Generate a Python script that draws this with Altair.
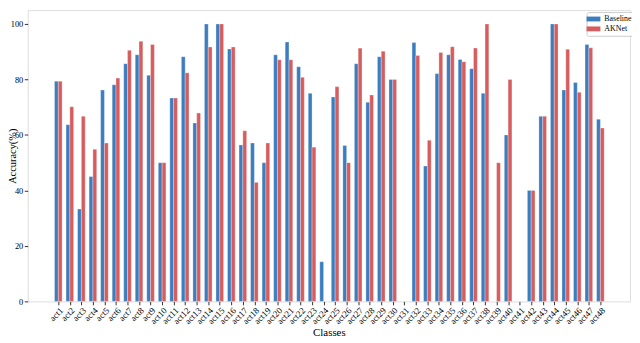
import altair as alt
import pandas as pd

classes = [f"act{i}" for i in range(1, 49)]
baseline = [79.4, 63.7, 33.3, 45.0, 76.2, 78.1, 85.7, 88.9, 81.5, 50.0,
            73.3, 88.2, 64.3, 100.0, 100.0, 91.0, 56.4, 57.1, 50.0, 88.9,
            93.5, 84.6, 75.0, 14.3, 73.7, 56.2, 85.7, 71.8, 88.2, 80.0,
            0.0, 93.3, 48.8, 82.1, 88.9, 87.2, 83.9, 75.0, 0.0, 60.0,
            0.0, 40.0, 66.7, 100.0, 76.2, 78.9, 92.6, 65.7]
aknet = [79.4, 70.2, 66.7, 54.8, 57.1, 80.5, 90.5, 93.8, 92.6, 50.0,
         73.3, 82.4, 67.9, 91.7, 100.0, 91.7, 61.5, 42.9, 57.1, 87.1,
         87.1, 80.8, 55.6, 0.0, 77.4, 50.0, 91.3, 74.4, 90.2, 80.0,
         0.0, 88.6, 58.1, 89.7, 91.8, 86.4, 91.3, 100.0, 50.0, 80.0,
         0.0, 40.0, 66.7, 100.0, 90.9, 75.4, 91.4, 62.5]
series = ["Baseline", "AKNet"]
colors = ["#3c7dbf", "#d65c5e"]
y_ticks = [0, 20, 40, 60, 80, 100]
bar_w = 0.33

rows = []
for i, (c, b, a) in enumerate(zip(classes, baseline, aknet), start=1):
    rows.append({"Class": c, "Idx": i, "Series": "Baseline", "Accuracy": b,
                 "x0": i - bar_w, "x1": i})
    rows.append({"Class": c, "Idx": i, "Series": "AKNet", "Accuracy": a,
                 "x0": i, "x1": i + bar_w})
df = pd.DataFrame(rows)

font = "Liberation Serif"
W, H = 610, 295

chart = alt.Chart(df).transform_filter(
    alt.datum.Accuracy > 0
).mark_bar(stroke="#ffffff", strokeOpacity=0.5, strokeWidth=0.6).encode(
    x=alt.X("x0:Q",
            scale=alt.Scale(domain=[-1.65, 50.57], nice=False, zero=False),
            axis=alt.Axis(title="Classes", values=list(range(1, 49)),
                          labelExpr="'act' + datum.value",
                          labelAngle=-45, labelAlign="right",
                          labelBaseline="top", labelFontSize=9, titleFontSize=11,
                          labelPadding=1, titlePadding=1, tickSize=3.5,
                          tickColor="#333333", domain=False, grid=False,
                          labelColor="#000000", labelOverlap=False, labelFlush=False,
                          titleColor="#000000", titleFontWeight="normal")),
    x2="x1:Q",
    y=alt.Y("Accuracy:Q", scale=alt.Scale(domain=[0, 105], nice=False),
            axis=alt.Axis(title="Accuracy(%)", values=y_ticks, grid=False,
                          labelFontSize=8.5, titleFontSize=10.5, tickSize=3.5,
                          tickColor="#333333", domain=False, labelPadding=1.5,
                          titleX=-10, titleY=H / 2, titleAlign="center",
                          titleBaseline="bottom", titleAngle=270,
                          labelColor="#000000", titleColor="#000000",
                          titleFontWeight="normal")),
    y2=alt.datum(0),
    color=alt.Color("Series:N", sort=series,
                    scale=alt.Scale(domain=series, range=colors),
                    legend=alt.Legend(title=None, orient="none",
                                      legendX=W - 44, legendY=2,
                                      symbolType="M-2,-0.7L2,-0.7L2,0.7L-2,0.7Z",
                                      symbolSize=49, symbolStrokeWidth=0,
                                      labelOffset=7, labelFontSize=8,
                                      labelColor="#000000",
                                      fillColor="#ffffff", strokeColor="#cccccc",
                                      padding=3, cornerRadius=2, rowPadding=2)),
).properties(
    width=W, height=H,
    autosize=alt.AutoSizeParams(type="none"),
    padding={"left": 20, "right": 2, "top": 0, "bottom": 40},
).configure_view(
    stroke="#808080", strokeWidth=1
).configure(
    font=font
)

chart.save("out.html", embed_options={"renderer": "svg", "actions": False})
